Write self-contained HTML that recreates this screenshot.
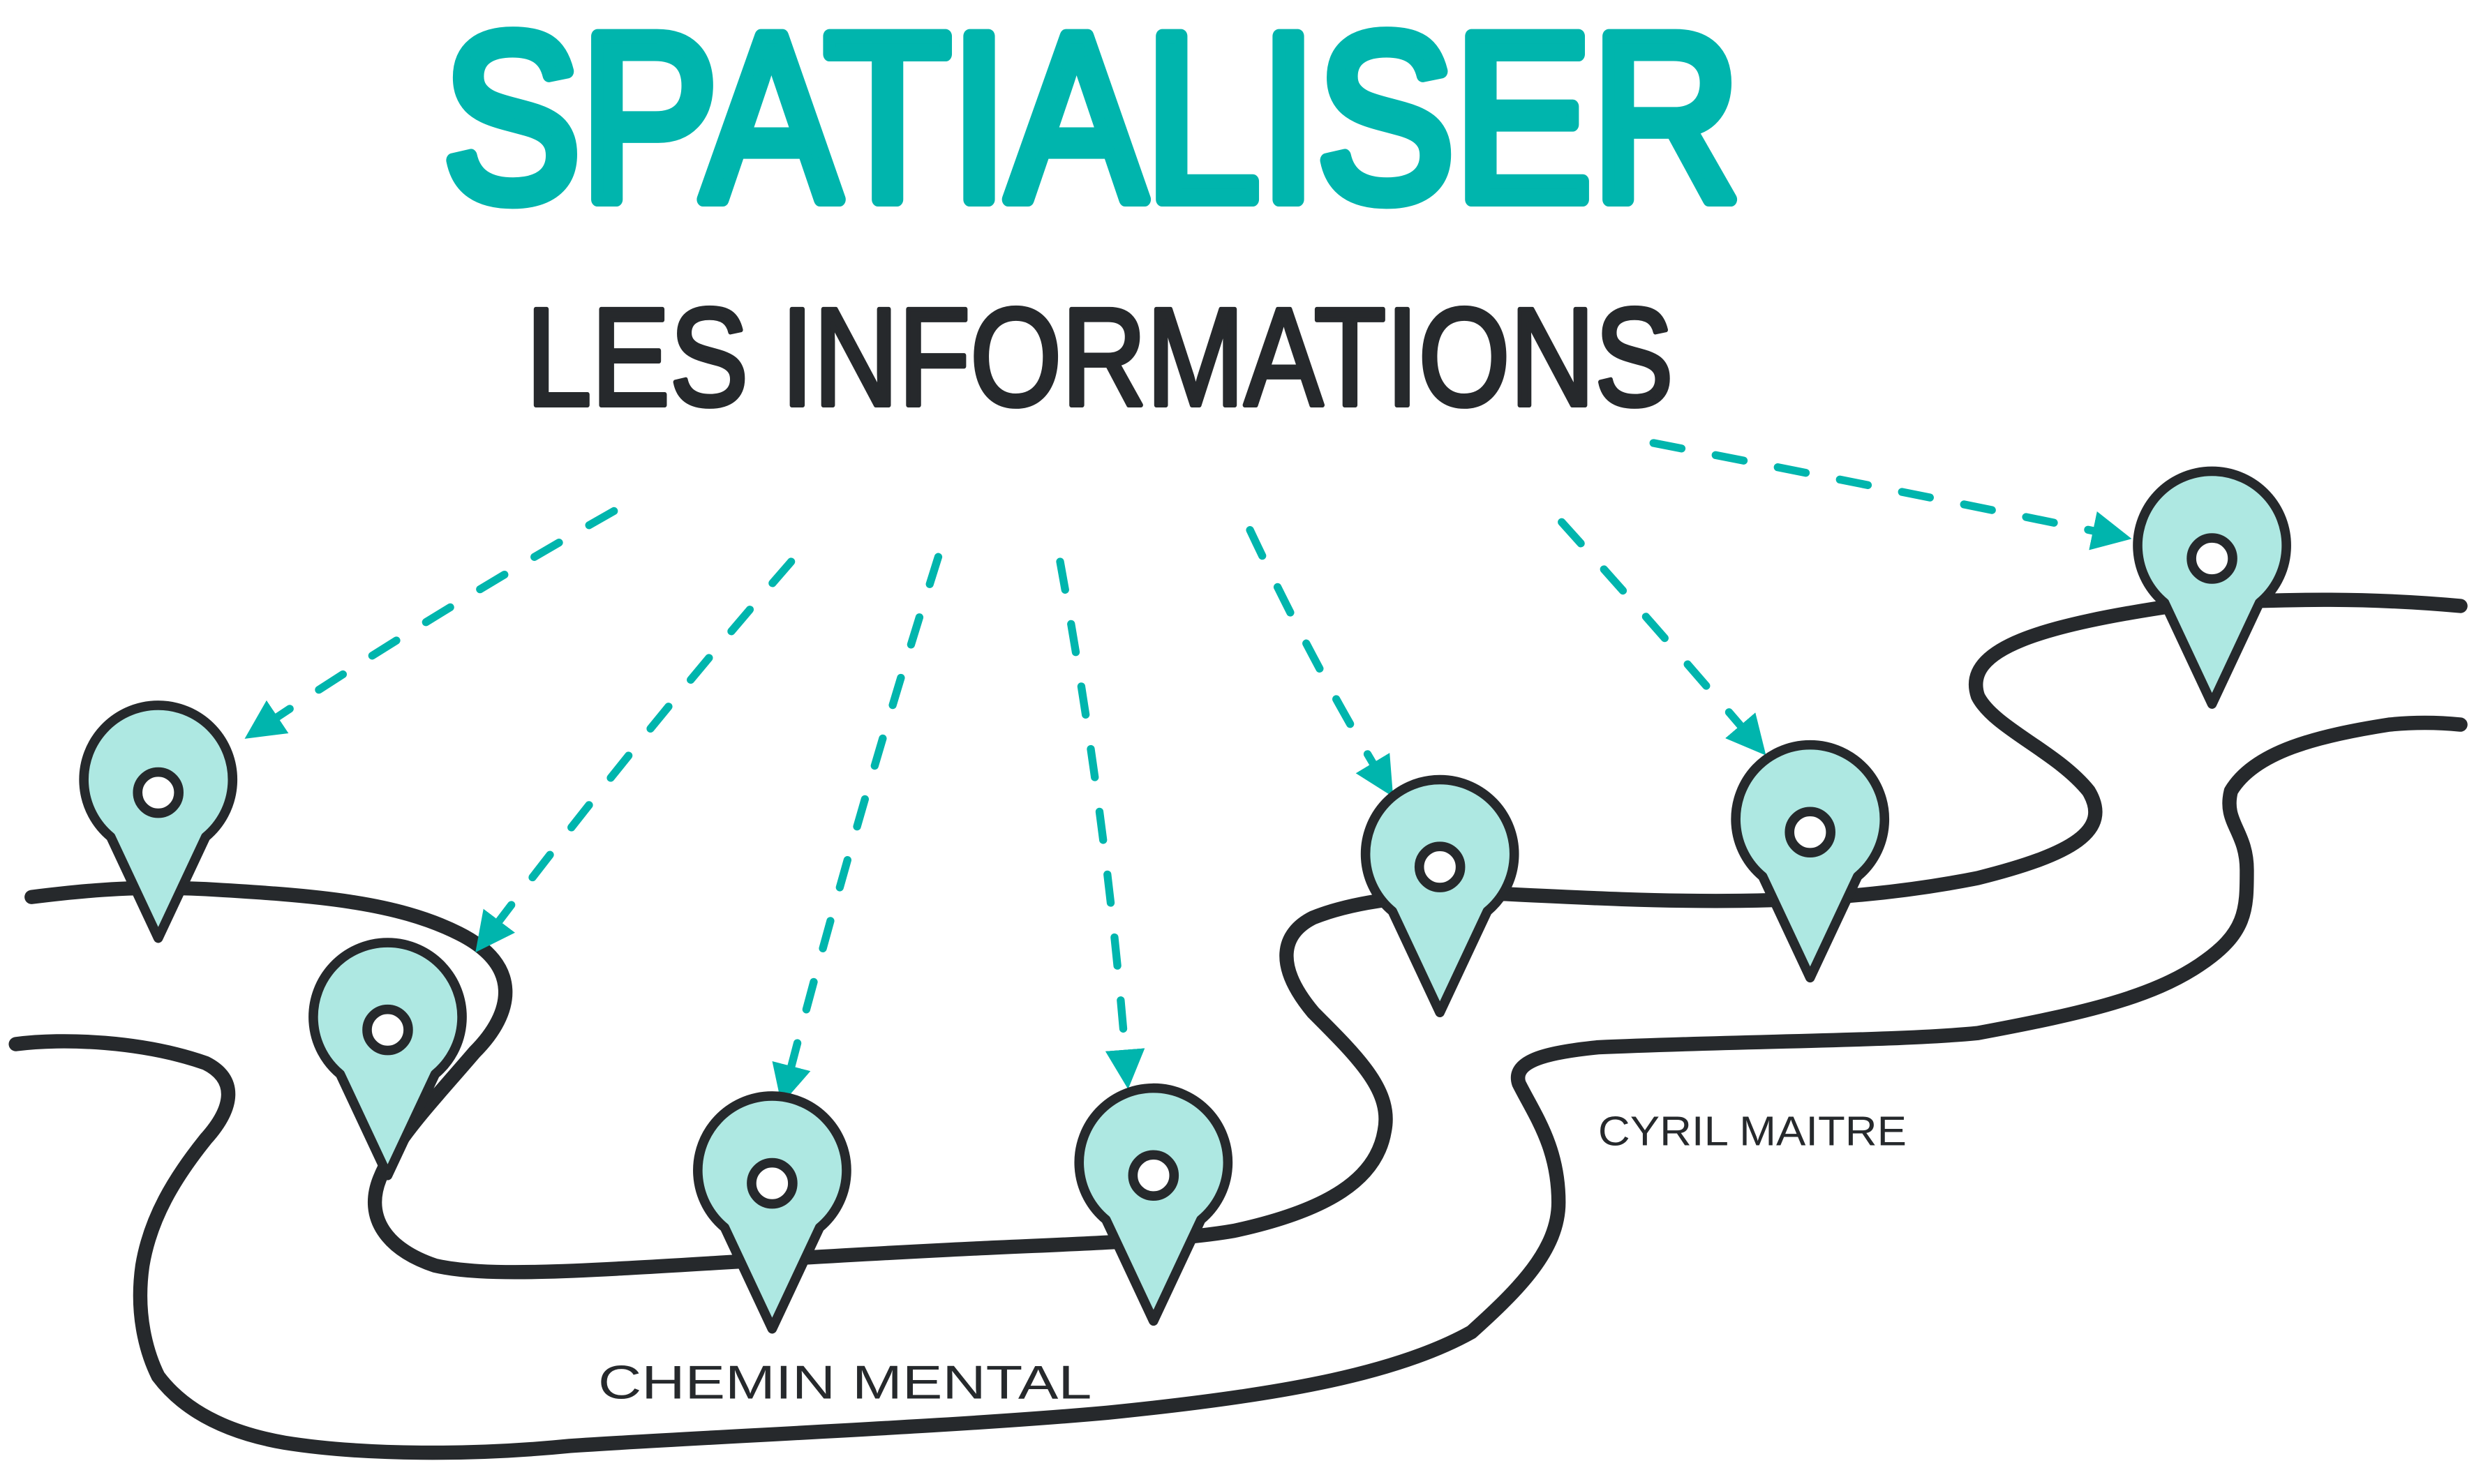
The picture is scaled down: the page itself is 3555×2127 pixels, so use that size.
<!DOCTYPE html>
<html><head><meta charset="utf-8"><style>
html,body{margin:0;padding:0;background:#fff;}
svg{display:block;}
</style></head><body>
<svg width="3555" height="2127" viewBox="0 0 1568 938" xmlns="http://www.w3.org/2000/svg">
<defs>
<marker id="ah" viewBox="0 0 10 10" refX="5" refY="5" markerWidth="5" markerHeight="5" orient="auto">
<path d="M0,0 L10,5 L0,10 Z" fill="#00b5ad"/>
</marker>
<g id="pin">
<path d="M0,100 L-30,36 A 47 47 0 1 1 30,36 Z" fill="#aee8e2" stroke="#26292c" stroke-width="6" stroke-linejoin="round"/>
<circle cx="0" cy="8" r="13" fill="#fff" stroke="#26292c" stroke-width="6"/>
</g>
</defs>
<rect width="1568" height="938" fill="#fff"/>
<text x="690" y="126" text-anchor="middle" font-family="Liberation Sans, sans-serif" font-size="150" fill="#00b5ad" stroke="#00b5ad" stroke-width="9" stroke-linejoin="round" textLength="820" lengthAdjust="spacingAndGlyphs">SPATIALISER</text>
<text x="695" y="256" text-anchor="middle" font-family="Liberation Sans, sans-serif" font-size="88" fill="#26292c" stroke="#26292c" stroke-width="3" stroke-linejoin="round" textLength="725" lengthAdjust="spacingAndGlyphs">LES INFORMATIONS</text>
<g fill="none" stroke="#26292c" stroke-width="9" stroke-linecap="round" stroke-linejoin="round">
<path d="M20,567 C60,562 90,560 130,562 C200,566 250,570 290,590 C330,610 325,640 300,665 C270,700 250,720 240,745 C230,770 245,790 275,800 C320,810 400,800 600,790 C680,786 740,785 780,778 C840,765 870,745 875,715 C880,690 860,670 830,640 C805,610 810,590 830,580 C860,568 900,565 950,565 C1050,570 1150,575 1250,555 C1310,540 1335,525 1320,500 C1300,475 1260,460 1250,440 C1240,410 1290,395 1380,382 C1450,378 1500,378 1555,383"/>
<path d="M10,660 C40,656 90,658 130,672 C150,682 148,700 130,720 C110,745 95,770 90,800 C85,835 95,860 100,870 C115,890 140,905 180,912 C230,920 300,920 360,914 C450,908 600,902 700,893 C800,883 880,870 930,842 C960,815 985,790 985,760 C985,725 970,705 960,685 C955,670 980,665 1010,662 C1100,658 1200,658 1250,653 C1320,640 1360,630 1390,610 C1420,590 1420,575 1420,550 C1420,525 1405,520 1410,500 C1425,475 1465,465 1510,458 C1530,456 1545,457 1555,458"/>
</g>
<g fill="none" stroke="#00b5ad" stroke-width="5" stroke-linecap="round" stroke-dasharray="18 22" marker-end="url(#ah)">
<path d="M388,323 Q270,390 165,460"/>
<path d="M500,355 Q400,470 308,592"/>
<path d="M593,352 Q540,520 497,686"/>
<path d="M670,355 Q700,520 712,676"/>
<path d="M790,335 Q830,420 874,493"/>
<path d="M987,330 Q1050,400 1108,468"/>
<path d="M1045,280 Q1200,310 1335,338"/>
</g>
<use href="#pin" x="100" y="493"/>
<use href="#pin" x="245" y="643"/>
<use href="#pin" x="488" y="740"/>
<use href="#pin" x="729" y="735"/>
<use href="#pin" x="910" y="540"/>
<use href="#pin" x="1144" y="518"/>
<use href="#pin" x="1398" y="345"/>
<text x="378" y="884" font-family="Liberation Sans, sans-serif" font-size="30" fill="#26292c" textLength="312" lengthAdjust="spacingAndGlyphs">CHEMIN MENTAL</text>
<text x="1010" y="724" font-family="Liberation Sans, sans-serif" font-size="26" fill="#26292c" textLength="195" lengthAdjust="spacingAndGlyphs">CYRIL MAITRE</text>
</svg>
</body></html>
